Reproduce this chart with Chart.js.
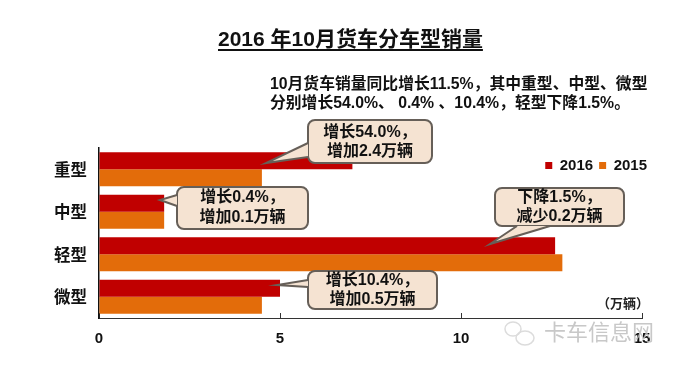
<!DOCTYPE html>
<html>
<head>
<meta charset="utf-8">
<style>
  html, body { margin: 0; padding: 0; background: #fff; }
</style>
<script src="https://cdn.jsdelivr.net/npm/chart.js@4/dist/chart.umd.js"></script>
</head>
<body>
<canvas id="truckChart" width="675" height="366"></canvas>
<script>
const categories = ['重型', '中型', '轻型', '微型'];
const sales2016 = [7.0, 1.8, 12.6, 5.0];
const sales2015 = [4.5, 1.8, 12.8, 4.5];
const xTicks = [0, 5, 10, 15];

const chartTitle = '2016 年10月货车分车型销量';
const noteLines = ['10月货车销量同比增长11.5%，其中重型、中型、微型', '分别增长54.0%、 0.4% 、10.4%，轻型下降1.5%。'];
const unitLabel = '（万辆）';
const watermark = '卡车信息网';

const fontFamily = '"Liberation Sans", "Noto Sans CJK SC", sans-serif';

// Speech bubbles on top of the bars
const callouts = [
    { lines: ['增长54.0%，', '增加2.4万辆'], box: [308, 120, 124, 43], tip: [266, 163], base: [[308, 143], [308, 157]], textY: [133, 152] },
    { lines: ['增长0.4%，', '增加0.1万辆'], box: [177, 187, 131, 42], tip: [160, 200], base: [[177, 195], [177, 206]], textY: [198, 218] },
    { lines: ['下降1.5%，', '减少0.2万辆'], box: [495, 188, 129, 38], tip: [490, 244], base: [[517, 226], [550, 226]], textY: [198, 217] },
    { lines: ['增长10.4%，', '增加0.5万辆'], box: [308, 271, 129, 38], tip: [277, 285], base: [[308, 280], [308, 287]], textY: [281, 300] }
];

function drawCallout(ctx, c) {
    const [x, y, w, h] = c.box;
    ctx.beginPath();
    ctx.roundRect(x, y, w, h, 7);
    ctx.fillStyle = '#f5e3d2';
    ctx.fill();
    ctx.lineWidth = 2;
    ctx.strokeStyle = '#665f58';
    ctx.stroke();

    // tail, the line along the box edge gets covered afterwards
    ctx.beginPath();
    ctx.moveTo(c.base[0][0], c.base[0][1]);
    ctx.lineTo(c.tip[0], c.tip[1]);
    ctx.lineTo(c.base[1][0], c.base[1][1]);
    ctx.closePath();
    ctx.fillStyle = '#f5e3d2';
    ctx.fill();
    ctx.beginPath();
    ctx.moveTo(c.base[0][0], c.base[0][1]);
    ctx.lineTo(c.tip[0], c.tip[1]);
    ctx.lineTo(c.base[1][0], c.base[1][1]);
    ctx.stroke();

    ctx.fillStyle = '#111';
    ctx.font = 'bold 16px ' + fontFamily;
    ctx.textAlign = 'center';
    ctx.textBaseline = 'middle';
    c.lines.forEach((line, i) => ctx.fillText(line, x + w / 2, c.textY[i]));
}

const extrasPlugin = {
    id: 'extras',
    afterLayout(chart) {
        // move the legend to where the original has it
        const legend = chart.legend;
        const h = legend.height;
        legend.left = 540;
        legend.right = 653;
        legend.top = 152;
        legend.bottom = 152 + h;
    },
    afterDraw(chart) {
        const ctx = chart.ctx;
        ctx.save();

        ctx.fillStyle = '#111';
        ctx.textBaseline = 'middle';
        ctx.textAlign = 'left';
        ctx.font = 'bold 21px ' + fontFamily;
        ctx.fillText(chartTitle, 218, 40);
        const titleWidth = ctx.measureText(chartTitle).width;
        ctx.fillRect(218, 49, titleWidth, 2);

        ctx.font = 'bold 15.8px ' + fontFamily;
        ctx.fillText(noteLines[0], 270, 85);
        ctx.fillText(noteLines[1], 270, 104);

        callouts.forEach(c => drawCallout(ctx, c));

        ctx.fillStyle = '#222';
        ctx.textAlign = 'left';
        ctx.textBaseline = 'middle';
        ctx.font = 'bold 13px ' + fontFamily;
        ctx.fillText(unitLabel, 597, 304);

        // watermark sits on top of the last tick label
        ctx.strokeStyle = '#dcdcdc';
        ctx.lineWidth = 1.5;
        ctx.beginPath();
        ctx.ellipse(513, 329, 8, 7, 0, 0, Math.PI * 2);
        ctx.stroke();
        ctx.beginPath();
        ctx.ellipse(525, 338, 9, 7, 0, 0, Math.PI * 2);
        ctx.stroke();
        ctx.fillStyle = 'rgba(190, 190, 190, 0.85)';
        ctx.font = '22px "Noto Sans CJK SC", sans-serif';
        ctx.fillText(watermark, 544, 332);

        ctx.restore();
    }
};

new Chart(document.getElementById('truckChart'), {
    type: 'bar',
    data: {
        labels: categories,
        datasets: [
            { label: '2016', data: sales2016, backgroundColor: '#c00000' },
            { label: '2015', data: sales2015, backgroundColor: '#e36c0a' }
        ]
    },
    options: {
        indexAxis: 'y',
        responsive: false,
        animation: false,
        barPercentage: 1,
        categoryPercentage: 0.8,
        layout: { padding: { top: 117, right: 33, left: 0, bottom: 0 } },
        scales: {
            x: {
                min: 0,
                max: 15,
                afterFit: scale => { scale.height = 48; },
                afterBuildTicks: scale => { scale.ticks = xTicks.map(v => ({ value: v })); },
                border: { color: '#333', width: 1 },
                grid: { drawOnChartArea: false, tickLength: -5, tickColor: '#333' },
                ticks: {
                    color: '#111',
                    padding: 17,
                    maxRotation: 0,
                    font: { family: fontFamily, size: 15, weight: 'bold' }
                }
            },
            y: {
                afterFit: scale => { scale.width = 99; },
                border: { color: '#111', width: 1.5 },
                grid: { display: true, drawOnChartArea: false, drawTicks: false },
                ticks: {
                    color: '#111',
                    padding: 12,
                    labelOffset: 2,
                    font: { family: fontFamily, size: 16.5, weight: 'bold' }
                }
            }
        },
        plugins: {
            title: { display: false },
            tooltip: { enabled: false },
            legend: {
                display: true,
                position: 'top',
                align: 'end',
                labels: {
                    boxWidth: 7,
                    boxHeight: 7,
                    padding: 6,
                    color: '#111',
                    font: { family: fontFamily, size: 15, weight: 'bold' }
                }
            }
        }
    },
    plugins: [extrasPlugin]
});
</script>
</body>
</html>
